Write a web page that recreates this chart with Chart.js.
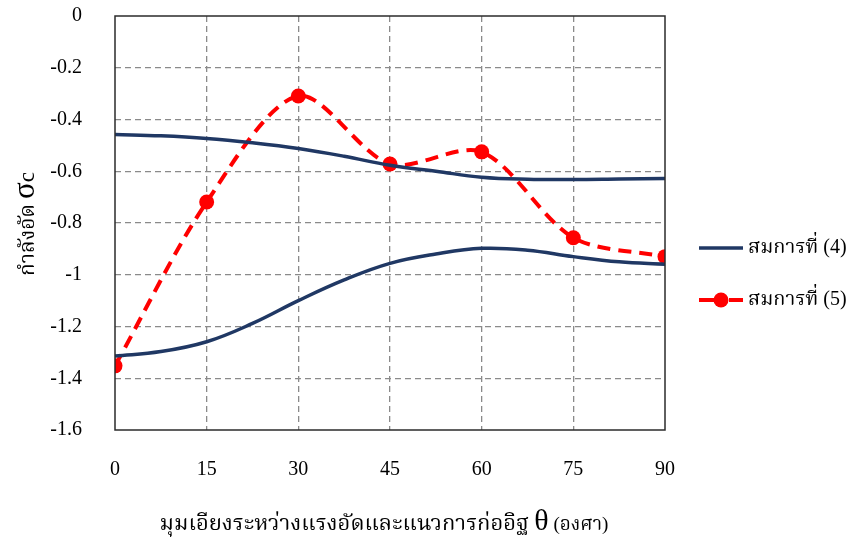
<!DOCTYPE html>
<html>
<head>
<meta charset="utf-8">
<script src="https://cdn.jsdelivr.net/npm/chart.js@4.4.1/dist/chart.umd.min.js"></script>
<style>
    html, body { margin: 0; padding: 0; background: #fff; }
    #wrap { width: 853px; height: 540px; }
</style>
</head>
<body>
<div id="wrap"><canvas id="strengthChart" width="853" height="540"></canvas></div>
<script>
// Values
const angles = [0, 15, 30, 45, 60, 75, 90];
const eq5Values = [-1.352, -0.719, -0.309, -0.572, -0.525, -0.857, -0.930];

const eq4Angles = [0, 7.5, 15, 22.5, 30, 37.5, 45, 52.5, 60, 67.5, 75, 82.5, 90];
const eq4Upper = [-0.458, -0.463, -0.473, -0.490, -0.512, -0.542, -0.577, -0.600, -0.623, -0.631, -0.632, -0.630, -0.628];
const eq4Lower = [-1.314, -1.297, -1.259, -1.188, -1.100, -1.020, -0.956, -0.920, -0.898, -0.905, -0.930, -0.950, -0.959];

const xTicks = [0, 15, 30, 45, 60, 75, 90];
const yTicks = [0, -0.2, -0.4, -0.6, -0.8, -1, -1.2, -1.4, -1.6];

const legendLabels = ['สมการที่ (4)', 'สมการที่ (5)'];
const xTitle = ['มุมเอียงระหว่างแรงอัดและแนวการก่ออิฐ ', 'θ', ' (องศา)'];
const yTitle = ['กำลังอัด ', 'σ', 'c'];

const NAVY = '#203864';
const RED = '#ff0000';
const SERIF = '"Liberation Serif", "Times New Roman", "Noto Serif Thai", serif';

const toPoints = (xs, ys) => xs.map((x, i) => ({ x: x, y: ys[i] }));

// Frame, axis titles and legend
const decorPlugin = {
    id: 'decor',
    afterDraw: function(chart) {
        const ctx = chart.ctx;
        const a = chart.chartArea;
        ctx.save();

        ctx.strokeStyle = '#2b2b2b';
        ctx.lineWidth = 1.5;
        ctx.setLineDash([]);
        ctx.strokeRect(a.left, a.top, a.right - a.left, a.bottom - a.top);

        const drawParts = function(parts, fonts, cx, cy) {
            let total = 0;
            const widths = parts.map(function(p, i) {
                ctx.font = fonts[i];
                const w = ctx.measureText(p).width;
                total += w;
                return w;
            });
            let x = cx - total / 2;
            parts.forEach(function(p, i) {
                ctx.font = fonts[i];
                ctx.fillText(p, x, cy);
                x += widths[i];
            });
        };

        ctx.fillStyle = '#000';
        ctx.textBaseline = 'alphabetic';
        ctx.textAlign = 'left';
        drawParts(xTitle, ['22px ' + SERIF, '30px ' + SERIF, '19px ' + SERIF], 384, 530);

        ctx.save();
        ctx.translate(34, 224);
        ctx.rotate(-Math.PI / 2);
        drawParts(yTitle, ['21px ' + SERIF, '31px ' + SERIF, '23px ' + SERIF], 0, 0);
        ctx.restore();

        // legend
        const lx0 = 699, lx1 = 743;
        const rows = [248, 300];
        ctx.lineCap = 'butt';
        ctx.strokeStyle = NAVY;
        ctx.lineWidth = 3.5;
        ctx.beginPath();
        ctx.moveTo(lx0, rows[0]);
        ctx.lineTo(lx1, rows[0]);
        ctx.stroke();

        ctx.strokeStyle = RED;
        ctx.lineWidth = 4;
        ctx.beginPath();
        ctx.moveTo(lx0, rows[1]);
        ctx.lineTo(715, rows[1]);
        ctx.moveTo(729, rows[1]);
        ctx.lineTo(lx1, rows[1]);
        ctx.stroke();
        ctx.fillStyle = RED;
        ctx.beginPath();
        ctx.arc(721, rows[1], 7.5, 0, Math.PI * 2);
        ctx.fill();

        ctx.fillStyle = '#000';
        ctx.font = '20px ' + SERIF;
        ctx.textBaseline = 'middle';
        legendLabels.forEach(function(t, i) {
            ctx.fillText(t, 748, rows[i]);
        });
        ctx.restore();
    }
};

const ctx = document.getElementById('strengthChart').getContext('2d');
const chart = new Chart(ctx, {
    type: 'line',
    data: {
        datasets: [
            {
                label: legendLabels[0],
                data: toPoints(eq4Angles, eq4Upper),
                borderColor: NAVY,
                borderWidth: 3.5,
                pointRadius: 0,
                tension: 0.4,
                fill: false
            },
            {
                label: legendLabels[0] + ' lower',
                data: toPoints(eq4Angles, eq4Lower),
                borderColor: NAVY,
                borderWidth: 3.5,
                pointRadius: 0,
                tension: 0.4,
                fill: false
            },
            {
                label: legendLabels[1],
                data: toPoints(angles, eq5Values),
                borderColor: RED,
                backgroundColor: RED,
                borderWidth: 4,
                borderDash: [13, 8],
                pointRadius: 7.5,
                pointBackgroundColor: RED,
                pointBorderWidth: 0,
                tension: 0.3,
                fill: false
            }
        ]
    },
    options: {
        responsive: false,
        animation: false,
        layout: {
            padding: { left: 0, right: 188, top: 16, bottom: 0 }
        },
        plugins: {
            legend: { display: false },
            tooltip: { enabled: false }
        },
        scales: {
            x: {
                type: 'linear',
                min: 0,
                max: 90,
                afterBuildTicks: function(scale) {
                    scale.ticks = xTicks.map(function(v) { return { value: v }; });
                },
                afterFit: function(scale) {
                    scale.height = 110;
                    scale.paddingLeft = 0;
                    scale.paddingRight = 0;
                },
                grid: {
                    color: function(c) {
                        return (c.tick && (c.tick.value === 0 || c.tick.value === 90)) ? 'rgba(0,0,0,0)' : '#8a8a8a';
                    },
                    lineWidth: 1.3,
                    drawTicks: false
                },
                border: { display: false, dash: [6, 4] },
                ticks: {
                    padding: 28,
                    color: '#000',
                    font: { family: SERIF, size: 20 },
                    maxRotation: 0
                }
            },
            y: {
                min: -1.6,
                max: 0,
                afterBuildTicks: function(scale) {
                    scale.ticks = yTicks.map(function(v) { return { value: v }; });
                },
                afterFit: function(scale) {
                    scale.width = 115;
                    scale.paddingTop = 0;
                    scale.paddingBottom = 0;
                },
                grid: {
                    color: function(c) {
                        return (c.tick && (c.tick.value === 0 || c.tick.value === -1.6)) ? 'rgba(0,0,0,0)' : '#8a8a8a';
                    },
                    lineWidth: 1.3,
                    drawTicks: false
                },
                border: { display: false, dash: [6, 4] },
                ticks: {
                    padding: 33,
                    color: '#000',
                    font: { family: SERIF, size: 20 },
                    callback: function(v) { return String(Math.round(v * 10) / 10); }
                }
            }
        }
    },
    plugins: [decorPlugin]
});
</script>
</body>
</html>
